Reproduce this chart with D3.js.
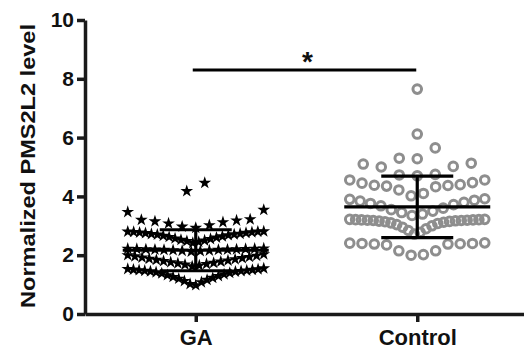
<!DOCTYPE html>
<html>
<head>
<meta charset="utf-8">
<script src="https://cdn.jsdelivr.net/npm/d3@7"></script>
<style>
  body { margin: 0; background: #fff; }
  svg text { font-family: "Liberation Sans", Arial, sans-serif; fill: #111; }
  .axis path, .axis line { stroke: #1a1a1a; stroke-width: 3.5px; }
  .axis text { font-size: 21px; font-weight: bold; }
</style>
</head>
<body>
<div id="chart"></div>
<script>
// data
const categories = ["GA", "Control"];

const gaValues = [
  4.18, 4.46,
  2.93, 2.97, 3.02, 3.08, 3.12, 3.15, 3.18, 3.2, 3.22, 3.47, 3.54,
  2.42, 2.45, 2.48, 2.5, 2.52, 2.55, 2.57, 2.6, 2.62, 2.64, 2.66, 2.68,
  2.7, 2.71, 2.72, 2.73, 2.75, 2.76, 2.77, 2.78, 2.79, 2.8, 2.8, 2.81,
  2.12, 2.14, 2.15, 2.16, 2.17, 2.18, 2.18, 2.19, 2.19, 2.2, 2.2, 2.21,
  2.21, 2.22, 2.22, 2.23,
  1.62, 1.65, 1.68, 1.7, 1.72, 1.74, 1.76, 1.78, 1.8, 1.82, 1.84, 1.86,
  1.88, 1.9, 1.92, 1.94, 1.96, 1.98, 2.0, 2.03,
  0.98, 1.02, 1.08, 1.12, 1.16, 1.2, 1.23, 1.26, 1.29, 1.32, 1.35, 1.38,
  1.4, 1.42, 1.44, 1.45, 1.46, 1.47, 1.48, 1.49, 1.5, 1.51, 1.52, 1.53, 1.55
];

const controlValues = [
  7.65,
  6.12,
  5.28, 5.3, 5.65,
  4.7, 4.73, 4.75, 5.0, 5.02, 5.1, 5.13,
  4.02, 4.1, 4.22, 4.33, 4.35, 4.37, 4.38, 4.4, 4.45, 4.47, 4.56, 4.56,
  3.35, 3.4, 3.45, 3.5, 3.55, 3.6, 3.68, 3.72, 3.76, 3.8, 3.84, 3.87, 3.9, 3.92,
  2.72, 2.78, 2.84, 2.9, 2.95, 3.0, 3.04, 3.08, 3.1, 3.12, 3.14, 3.15,
  3.16, 3.17, 3.18, 3.18, 3.19, 3.19, 3.2, 3.2, 3.21, 3.21, 3.22, 3.22,
  2.0, 2.02, 2.15, 2.15, 2.35, 2.38, 2.38, 2.39, 2.4, 2.4, 2.41, 2.42
];

// bin edges used to spread points sideways (GraphPad style scatter)
const gaBins = [1.6, 2.08, 2.4, 2.88, 3.9];
const controlBins = [2.6, 3.3, 4.0, 4.6, 5.2, 5.8, 6.5];

const yTicks = [0, 2, 4, 6, 8, 10];
const sigLevel = 8.3;

const width = 524, height = 352;
const svg = d3.select("#chart").append("svg")
  .attr("width", width)
  .attr("height", height);

const x = d3.scalePoint().domain(categories).range([85, 528]).padding(0.5);
const y = d3.scaleLinear().domain([0, 10]).range([314, 20]);

function spread(values, thresholds, maxW, cap) {
  const bins = d3.bin().domain([0, 10]).thresholds(thresholds)(values);
  const pts = [];
  bins.forEach(b => {
    const n = b.length;
    if (!n) return;
    const sorted = b.slice().sort(d3.ascending);
    const step = n > 1 ? Math.min(cap, maxW / (n - 1)) : 0;
    const mid = (n - 1) / 2;
    const slots = d3.range(n).sort((a, c) => Math.abs(a - mid) - Math.abs(c - mid) || a - c);
    sorted.forEach((v, i) => pts.push({ v: v, dx: (slots[i] - mid) * step }));
  });
  return pts;
}

// axes
svg.append("g")
  .attr("class", "axis")
  .attr("transform", "translate(85,0)")
  .call(d3.axisLeft(y).tickValues(yTicks).tickSize(8).tickSizeOuter(0).tickPadding(3));

svg.append("g")
  .attr("class", "axis")
  .attr("transform", "translate(0,314)")
  .call(d3.axisBottom(x).tickSize(8).tickSizeOuter(0).tickPadding(7))
  .selectAll("text").style("font-size", "22px");

svg.append("text")
  .attr("transform", "translate(35,166) rotate(-90)")
  .attr("text-anchor", "middle")
  .attr("textLength", 284)
  .attr("lengthAdjust", "spacingAndGlyphs")
  .style("font-size", "20px")
  .style("font-weight", "bold")
  .text("Normalized PMS2L2 level");

// points
const star = d3.symbol().type(d3.symbolStar).size(50);
const gaX = x("GA"), ctX = x("Control");

svg.append("g").selectAll("path")
  .data(spread(gaValues, gaBins, 136, 18))
  .enter().append("path")
  .attr("d", star)
  .attr("transform", d => `translate(${gaX + d.dx},${y(d.v)})`)
  .attr("fill", "#000");

svg.append("g").selectAll("circle")
  .data(spread(controlValues, controlBins, 135, 18))
  .enter().append("circle")
  .attr("cx", d => ctX + d.dx)
  .attr("cy", d => y(d.v))
  .attr("r", 4.3)
  .attr("fill", "none")
  .attr("stroke", "#8e8e8e")
  .attr("stroke-width", 3);

// mean +/- SD
[[gaX, gaValues], [ctX, controlValues]].forEach(([cx, vals]) => {
  const m = d3.mean(vals), sd = d3.deviation(vals);
  const g = svg.append("g").attr("stroke", "#000").attr("stroke-width", 3.2);
  g.append("line").attr("x1", cx - 73).attr("x2", cx + 73).attr("y1", y(m)).attr("y2", y(m));
  g.append("line").attr("x1", cx - 36).attr("x2", cx + 36).attr("y1", y(m + sd)).attr("y2", y(m + sd));
  g.append("line").attr("x1", cx - 36).attr("x2", cx + 36).attr("y1", y(m - sd)).attr("y2", y(m - sd));
  g.append("line").attr("x1", cx).attr("x2", cx).attr("y1", y(m + sd)).attr("y2", y(m - sd));
});

// significance bar
svg.append("line")
  .attr("x1", gaX - 3).attr("x2", ctX - 1)
  .attr("y1", y(sigLevel)).attr("y2", y(sigLevel))
  .attr("stroke", "#000").attr("stroke-width", 3);

svg.append("text")
  .attr("x", (gaX + ctX) / 2 + 1)
  .attr("y", y(sigLevel) + 1)
  .attr("text-anchor", "middle")
  .style("font-size", "28px")
  .style("font-weight", "bold")
  .text("*");
</script>
</body>
</html>
